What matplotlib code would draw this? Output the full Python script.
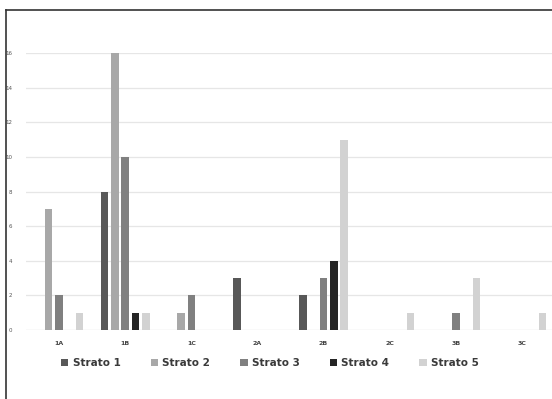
import numpy as np
import matplotlib
matplotlib.use('Agg')
import matplotlib.pyplot as plt
from matplotlib.lines import Line2D
from matplotlib.patches import Patch

# Data
categories = ['1A', '1B', '1C', '2A', '2B', '2C', '3B', '3C']
strato_1 = [0, 8, 0, 3, 2, 0, 0, 0]
strato_2 = [7, 16, 1, 0, 0, 0, 0, 0]
strato_3 = [2, 10, 2, 0, 3, 0, 1, 0]
strato_4 = [0, 1, 0, 0, 4, 0, 0, 0]
strato_5 = [1, 1, 0, 0, 11, 1, 3, 1]
series_names = ['Strato 1', 'Strato 2', 'Strato 3', 'Strato 4', 'Strato 5']
yticks = [0, 2, 4, 6, 8, 10, 12, 14, 16]

series = [strato_1, strato_2, strato_3, strato_4, strato_5]
colors = ['#585858', '#a8a8a8', '#808080', '#252525', '#d2d2d2']

W, H = 552, 399
fig = plt.figure(figsize=(W / 100, H / 100), dpi=100)
ax = fig.add_axes([26 / W, 1 - 330 / H, 529 / W, 277 / H])

x = np.arange(len(categories))
pitch = 0.156
width = 0.113
for i, (vals, c) in enumerate(zip(series, colors)):
    ax.bar(x + (i - 2) * pitch, vals, width=width, color=c, zorder=3)

ax.set_xlim(-0.5, len(categories) - 0.5)
ax.set_ylim(0, 16)
ax.set_yticks(yticks)
ax.set_yticklabels([str(t) for t in yticks], fontsize=4, color='#555555')
ax.set_xticks(x)
ax.set_xticklabels(categories, fontsize=4.5, color='#444444', fontweight='bold')
ax.tick_params(axis='both', length=0)
ax.tick_params(axis='y', pad=10)
ax.tick_params(axis='x', pad=8)
ax.grid(axis='y', color='#e6e6e6', linewidth=0.9, zorder=0)
ax.set_axisbelow(True)
for s in ax.spines.values():
    s.set_visible(False)
ax.axhline(0, color='#d8d8d8', linewidth=0.8, zorder=1)

# legend
handles = [Patch(facecolor=c, edgecolor='none') for c in colors]
fig.legend(handles, series_names, loc='center', ncol=5,
           bbox_to_anchor=(270 / W, 1 - 363 / H), frameon=False,
           prop={'size': 7.5, 'weight': 'bold'}, labelcolor='#3a3a3a',
           handlelength=0.7, handleheight=0.7, handletextpad=0.4,
           columnspacing=2.9)

# outer frame (left and top edges visible)
fig.add_artist(Line2D([6 / W, 6 / W], [0, 1 - 10 / H], transform=fig.transFigure,
                      color='#333333', linewidth=1.2))
fig.add_artist(Line2D([6 / W, 1], [1 - 10 / H, 1 - 10 / H], transform=fig.transFigure,
                      color='#333333', linewidth=1.2))

fig.savefig('out.png', dpi=100)
